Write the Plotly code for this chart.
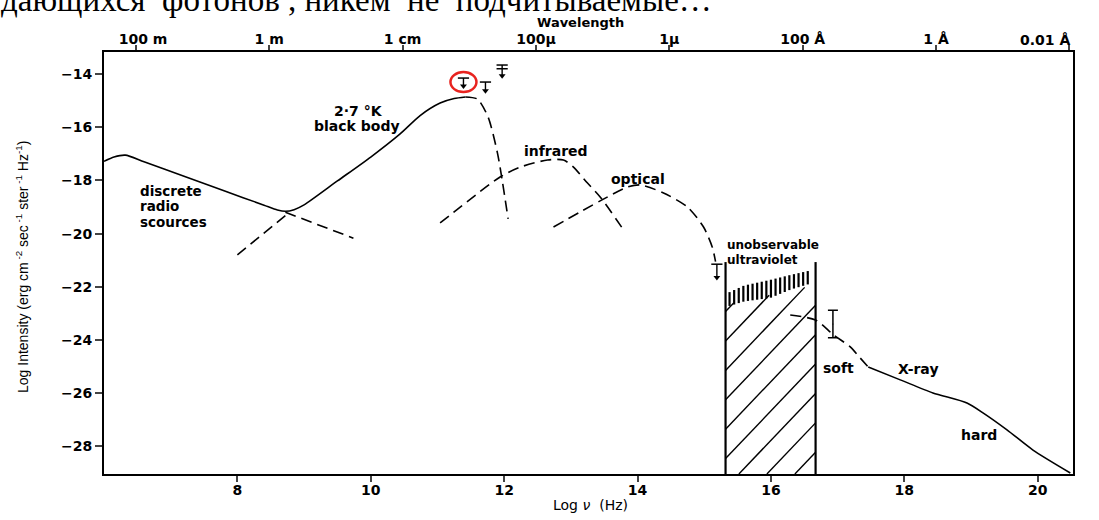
import numpy as np
import plotly.graph_objects as go

# ---------------- data ----------------
x_range = [6.0, 20.53]          # log nu (Hz)
y_range = [-29.04, -13.17]      # log intensity
x_ticks = [8, 10, 12, 14, 16, 18, 20]
y_ticks = [-14, -16, -18, -20, -22, -24, -26, -28]

# top axis: wavelengths in cm and their labels
wl_cm = [1e4, 1e2, 1.0, 1e-2, 1e-4, 1e-6, 1e-8, 1e-10]
wl_labels = ["100 m", "1 m", "1 cm", "100μ", "1μ", "100 Å", "1 Å", "0.01 Å"]

# solid: discrete radio sources + 2.7 K black body (sum)
main_x = [6.0, 6.15, 6.32, 6.6, 7.2, 7.8, 8.4, 8.6, 8.72, 8.85, 9.0, 9.5, 10.0, 10.44, 10.74, 11.04, 11.25, 11.42]
main_y = [-17.28, -17.12, -17.05, -17.30, -17.84, -18.39, -18.93, -19.11, -19.16, -19.10, -18.92, -18.02, -17.12, -16.25, -15.56, -15.09, -14.92, -14.86]

# dashed: black body beyond the peak
bb_fall_x = [11.42, 11.6, 11.76, 11.9, 11.97, 12.06]
bb_fall_y = [-14.86, -14.94, -15.62, -16.97, -17.98, -19.45]
# dashed extensions under the crossing
bb_ext_x = [8.0, 8.75]
bb_ext_y = [-20.80, -19.26]
radio_ext_x = [8.72, 9.74]
radio_ext_y = [-19.20, -20.17]

# dashed: infrared
ir_x = [11.04, 11.94, 12.24, 12.65, 12.89, 13.04, 13.25, 13.44, 13.79]
ir_y = [-19.60, -17.87, -17.50, -17.23, -17.23, -17.50, -18.10, -18.62, -19.86]

# dashed: optical
opt_x = [12.74, 13.44, 13.85, 14.04, 14.39, 14.75, 14.99, 15.12, 15.17]
opt_y = [-19.75, -18.77, -18.25, -18.17, -18.47, -19.00, -19.75, -20.50, -21.05]

# unobservable ultraviolet box
uv_x = [15.32, 16.67]
uv_top = -21.07
uv_hatch_top = [-22.68, -21.93]          # at left / right edge
band_x = [15.38, 15.6, 15.99, 16.3, 16.62]
band_top = [-22.20, -21.95, -21.74, -21.55, -21.37]
band_bot = [-22.72, -22.55, -22.42, -22.10, -21.86]

# dashed soft X-ray and solid X-ray
soft_x = [16.29, 16.67, 16.94, 17.19, 17.34, 17.46]
soft_y = [-23.06, -23.25, -23.81, -24.26, -24.68, -25.02]
xray_x = [17.46, 17.94, 18.43, 18.94, 19.18, 19.54, 19.93, 20.49]
xray_y = [-25.02, -25.50, -25.99, -26.37, -26.74, -27.38, -28.14, -29.00]

# error bar
err_x, err_y, err_half = 16.93, -23.40, 0.52

# upper limits: x, list of bar y, arrow head y
limits = [
    (11.39, [-14.15], -14.45),
    (11.72, [-14.30], -14.63),
    (11.97, [-13.66, -13.80], -14.06),
    (15.19, [-21.15], -21.65),
]
circled = 0   # index of the limit highlighted by the red circle

labels = [
    ("2·7 °K", 9.81, -15.39, "center", 14),
    ("black body", 9.80, -15.97, "center", 14),
    ("discrete", 6.52, -18.38, "left", 13.5),
    ("radio", 6.52, -18.97, "left", 13.5),
    ("scources", 6.52, -19.56, "left", 13.5),
    ("infrared", 12.78, -16.89, "center", 14),
    ("optical", 14.01, -17.93, "center", 14),
    ("unobservable", 15.33, -20.44, "left", 12),
    ("ultraviolet", 15.33, -20.98, "left", 12),
    ("soft", 17.01, -25.05, "center", 14),
    ("X-ray", 18.21, -25.09, "center", 14),
    ("hard", 19.12, -27.57, "center", 14),
]

header_text = "дающихся  фотонов , никем  не  подчитываемые…"

# ---------------- figure ----------------
PLOT_L, PLOT_R, PLOT_T, PLOT_B = 104, 1073, 52, 474
FIG_W, FIG_H = 1099, 520
PW, PH = PLOT_R - PLOT_L, PLOT_B - PLOT_T
PX_PER_X = PW / (x_range[1] - x_range[0])
PX_PER_Y = PH / (y_range[1] - y_range[0])


def paper_x(px):
    return (px - PLOT_L) / PW


def paper_y(py):
    return (PLOT_B - py) / PH


SANS = "DejaVu Sans"
LW = 1.6
DASH = "11px,6px"

fig = go.Figure()


def line(x, y, dash=None, width=LW, shape="spline"):
    fig.add_trace(go.Scatter(
        x=x, y=y, mode="lines", showlegend=False, hoverinfo="skip", connectgaps=False,
        line=dict(color="black", width=width, dash=dash, shape=shape, smoothing=0.7)))


line(main_x, main_y)
line(bb_fall_x, bb_fall_y, DASH)
line(bb_ext_x, bb_ext_y, DASH, shape="linear")
line(radio_ext_x, radio_ext_y, DASH, shape="linear")
line(ir_x, ir_y, DASH)
line(opt_x, opt_y, DASH)

# ---- hatched UV region: diagonal lines clipped to the region ----
slope = 1.05 * PX_PER_X / PX_PER_Y          # ~46 degrees on screen
step = 28 / PX_PER_X                          # ~28 px between lines
ybot = y_range[0]
b_top = (uv_hatch_top[1] - uv_hatch_top[0]) / (uv_x[1] - uv_x[0])
a_top = uv_hatch_top[0] - b_top * uv_x[0]
hx, hy = [], []
for j in range(-12, 6):
    xb = uv_x[0] + 0.2 + j * step
    xt = (a_top - ybot + slope * xb) / (slope - b_top)
    xs, xe = max(uv_x[0], xb), min(uv_x[1], xt)
    if xe > xs:
        hx += [xs, xe, None]
        hy += [ybot + slope * (xs - xb), ybot + slope * (xe - xb), None]
line(hx, hy, width=1.4, shape="linear")

# ---- vertical stripe band ----
sx = np.arange(band_x[0], band_x[-1] + 1e-9, 4.6 / PX_PER_X)
st = np.interp(sx, band_x, band_top)
sb = np.interp(sx, band_x, band_bot)
bx, by = [], []
for xv, t, b in zip(sx, st, sb):
    bx += [float(xv), float(xv), None]
    by += [float(b), float(t), None]
line(bx, by, width=2.2, shape="linear")

# box walls
for xv in uv_x:
    line([xv, xv], [y_range[0], uv_top], width=2.2, shape="linear")

line(soft_x, soft_y, DASH)
line(xray_x, xray_y)

# error bar
fig.add_trace(go.Scatter(
    x=[err_x], y=[err_y], mode="markers", marker=dict(size=1, color="black"),
    error_y=dict(type="data", array=[err_half], color="black", thickness=1.5, width=5),
    showlegend=False, hoverinfo="skip"))

# upper limits: bar(s), shaft, arrow head
for lx, bars, head in limits:
    fig.add_trace(go.Scatter(
        x=[lx] * len(bars), y=bars, mode="markers",
        marker=dict(symbol="line-ew", size=8, line=dict(color="black", width=1.5)),
        showlegend=False, hoverinfo="skip"))
    line([lx, lx], [bars[0], head], width=1.4, shape="linear")
    fig.add_trace(go.Scatter(
        x=[lx], y=[head], mode="markers",
        marker=dict(symbol="triangle-down", size=6, color="black"),
        showlegend=False, hoverinfo="skip"))

cx, cbars, chead = limits[circled]
fig.add_shape(type="circle", xref="x", yref="y", xsizemode="pixel", ysizemode="pixel",
              xanchor=cx, yanchor=(cbars[0] + chead) / 2,
              x0=-13, x1=13, y0=-10, y1=10, line=dict(color="#e8231f", width=2.5))

annotations = []
for txt, lx, ly, anc, fs in labels:
    annotations.append(dict(x=lx, y=ly, xref="x", yref="y", text=txt, showarrow=False,
                            xanchor=anc, yanchor="middle", borderpad=0,
                            font=dict(family=SANS, size=fs, color="black", weight="bold")))

TICK_FONT = dict(family=SANS, size=14, color="black", weight="bold")
top_vals = [float(np.log10(2.998e10 / w)) for w in wl_cm]
# the last wavelength label sits left of its tick (inside the frame), as in the reference
top_text = ["\u00a0\u00a0\u00a0" + wl_labels[0]] + wl_labels[1:-1] + [""]

# texts around the frame
annotations += [
    dict(text=wl_labels[-1], xref="paper", yref="paper", x=paper_x(1045), y=paper_y(40),
         xanchor="center", yanchor="middle", showarrow=False, borderpad=0, font=TICK_FONT),
    dict(text="Wavelength", xref="paper", yref="paper", x=paper_x(580), y=paper_y(22),
         xanchor="center", yanchor="middle", showarrow=False, borderpad=0,
         font=dict(family=SANS, size=13, color="black", weight="bold")),
    dict(text="Log <i>ν</i>  (Hz)", xref="paper", yref="paper", x=paper_x(590), y=paper_y(505),
         xanchor="center", yanchor="middle", showarrow=False,
         font=dict(family=SANS, size=14, color="black")),
    dict(text="Log Intensity (erg cm<sup> -2</sup> sec<sup> -1</sup> ster<sup> -1</sup> Hz<sup>-1</sup>)",
         xref="paper", yref="paper", x=paper_x(22), y=paper_y(267), textangle=-90,
         xanchor="center", yanchor="middle", showarrow=False,
         font=dict(family="Liberation Sans Narrow, Liberation Sans", size=14, color="black")),
    dict(text=header_text, xref="paper", yref="paper", x=paper_x(0), y=paper_y(0),
         xanchor="left", yanchor="middle", showarrow=False, borderpad=0,
         font=dict(family="Liberation Serif", size=33, color="black")),
]

# invisible trace for the top axis
fig.add_trace(go.Scatter(x=[x_range[0]], y=[y_range[0]], xaxis="x2", mode="markers",
                         marker=dict(opacity=0), showlegend=False, hoverinfo="skip"))

fig.update_layout(
    width=FIG_W, height=FIG_H,
    margin=dict(l=PLOT_L, r=FIG_W - PLOT_R, t=PLOT_T, b=FIG_H - PLOT_B, autoexpand=False),
    paper_bgcolor="white", plot_bgcolor="white",
    annotations=annotations,
    xaxis=dict(range=x_range, tickvals=x_ticks, ticks="outside", ticklen=6, tickwidth=1.5,
               showline=True, linewidth=2, linecolor="black", mirror=True, automargin=False,
               ticklabelstandoff=-4,
               showgrid=False, zeroline=False, tickfont=TICK_FONT),
    xaxis2=dict(range=x_range, overlaying="x", side="top", tickvals=top_vals, ticktext=top_text,
                ticks="outside", ticklen=5, tickwidth=1.5, showline=True, linewidth=2,
                ticklabelstandoff=-5, automargin=False,
                linecolor="black", showgrid=False, zeroline=False, tickfont=TICK_FONT),
    yaxis=dict(range=y_range, tickvals=y_ticks, ticks="outside", ticklen=7, tickwidth=1.5,
               showline=True, linewidth=2, linecolor="black", mirror=True, automargin=False,
               showgrid=False, zeroline=False, tickfont=TICK_FONT),
)

fig.write_html("out.html", config={"displayModeBar": False},
               post_script="document.body.style.margin='0px';")
